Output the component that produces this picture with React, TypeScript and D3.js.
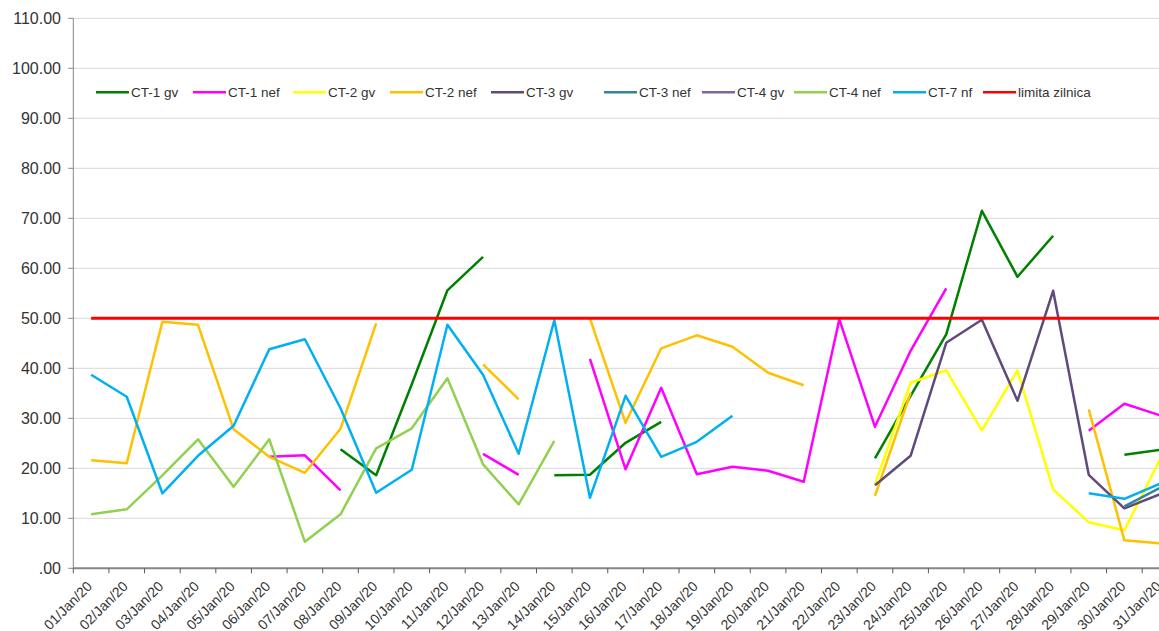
import React, { useEffect, useRef } from "react";
import * as d3 from "d3";

// --- Data ---
const dates: string[] = Array.from({ length: 31 }, (_, i) =>
  `${String(i + 1).padStart(2, "0")}/Jan/20`
);

const _ = null;

const ct1gv = [_, _, _, _, _, _, _, 23.8, 18.6, 36.8, 55.6, 62.3, _, 18.6, 18.7, 25.1, 29.3, _, _, _, _, _, 22.0, 34.5, 46.8, 71.5, 58.3, 66.5, _, 22.7, 23.7];
const ct1nef = [_, _, _, _, _, 22.3, 22.6, 15.6, _, _, _, 22.9, 18.7, _, 41.9, 19.8, 36.1, 18.8, 20.3, 19.5, 17.3, 49.8, 28.3, 43.5, 56.0, _, _, _, 27.5, 32.9, 30.6];
const ct2gv = [_, _, _, _, _, _, _, _, _, _, _, _, _, _, _, _, _, _, _, _, _, _, 16.8, 37.1, 39.6, 27.6, 39.6, 15.8, 9.2, 7.6, 21.8];
const ct2nef = [21.6, 21.0, 49.3, 48.7, 27.8, 22.3, 19.1, 27.9, 49.0, _, _, 40.8, 33.8, _, 50.0, 29.1, 44.0, 46.6, 44.3, 39.1, 36.6, _, 14.5, 35.1, _, _, _, _, 31.8, 5.6, 5.0];
const ct3gv = [_, _, _, _, _, _, _, _, _, _, _, _, _, _, _, _, _, _, _, _, _, _, 16.6, 22.5, 45.1, 49.7, 33.5, 55.5, 18.7, 12.0, 14.8];
const ct3nef = [_, _, _, _, _, _, _, _, _, _, _, _, _, _, _, _, _, _, _, _, _, _, _, _, _, _, _, _, _, 12.4, 16.1];
const ct4gv: (number | null)[] = dates.map(() => null);
const ct4nef = [10.8, 11.8, 18.6, 25.8, 16.3, 25.8, 5.3, 10.8, 24.0, 28.0, 38.0, 20.8, 12.8, 25.5, _, _, _, _, _, _, _, _, _, _, _, _, _, _, _, _, _];
const ct7nf = [38.7, 34.3, 15.0, 22.5, 28.5, 43.8, 45.8, 32.0, 15.1, 19.7, 48.7, 38.7, 22.9, 49.6, 14.1, 34.5, 22.3, 25.3, 30.5, _, _, _, _, _, _, _, _, _, 15.0, 13.9, 16.9];
const limitaZilnica = dates.map(() => 50);

const seriesNames = ["CT-1 gv", "CT-1 nef", "CT-2 gv", "CT-2 nef", "CT-3 gv", "CT-3 nef", "CT-4 gv", "CT-4 nef", "CT-7 nf", "limita zilnica"];
const seriesValues = [ct1gv, ct1nef, ct2gv, ct2nef, ct3gv, ct3nef, ct4gv, ct4nef, ct7nf, limitaZilnica];
const seriesColors = ["#008000", "#FF00FF", "#FFFF00", "#FFC000", "#604A7B", "#31859C", "#8064A2", "#92D050", "#00B0F0", "#FF0000"];

const yTicks = [0, 10, 20, 30, 40, 50, 60, 70, 80, 90, 100, 110];

// legend item x positions (Excel lays them out unevenly)
const legendX = [96, 193, 293, 390, 491, 604, 702, 794, 893, 983];

const W = 1159;
const H = 631;

const App: React.FC = () => {
  const svgRef = useRef<SVGSVGElement>(null);

  useEffect(() => {
    if (!svgRef.current) return;
    const svg = d3.select(svgRef.current);
    svg.selectAll("*").remove();

    const left = 73.3;
    const step = 35.63;
    const x = d3
      .scaleBand<string>()
      .domain(dates)
      .range([left, left + step * dates.length])
      .padding(0);
    const cx = (d: string) => x(d)! + x.bandwidth() / 2;

    const y = d3.scaleLinear().domain([0, 110]).range([568.3, 18.3]);

    const font = "Arial, 'Liberation Sans', sans-serif";
    const textColor = "#333333";

    // gridlines
    svg
      .append("g")
      .selectAll("line")
      .data(yTicks.filter((t) => t > 0))
      .enter()
      .append("line")
      .attr("x1", left)
      .attr("x2", W)
      .attr("y1", (d) => y(d))
      .attr("y2", (d) => y(d))
      .attr("stroke", "#D9D9D9")
      .attr("stroke-width", 1);

    // y axis
    const yAxis = svg.append("g");
    yAxis
      .append("line")
      .attr("x1", left)
      .attr("x2", left)
      .attr("y1", y(110))
      .attr("y2", y(0))
      .attr("stroke", "#868686")
      .attr("stroke-width", 1);
    yAxis
      .selectAll("line.tick")
      .data(yTicks)
      .enter()
      .append("line")
      .attr("class", "tick")
      .attr("x1", left - 5)
      .attr("x2", left)
      .attr("y1", (d) => y(d))
      .attr("y2", (d) => y(d))
      .attr("stroke", "#868686");
    yAxis
      .selectAll("text")
      .data(yTicks)
      .enter()
      .append("text")
      .attr("x", 61)
      .attr("y", (d) => y(d))
      .attr("dy", "0.36em")
      .attr("text-anchor", "end")
      .style("font-family", font)
      .style("font-size", "16px")
      .style("fill", textColor)
      .text((d) => (d === 0 ? ".00" : d3.format(".2f")(d)));

    // x axis
    const xAxis = svg.append("g");
    xAxis
      .append("line")
      .attr("x1", left)
      .attr("x2", W)
      .attr("y1", y(0))
      .attr("y2", y(0))
      .attr("stroke", "#868686")
      .attr("stroke-width", 2);
    xAxis
      .selectAll("line.tick")
      .data(dates)
      .enter()
      .append("line")
      .attr("class", "tick")
      .attr("x1", (d) => x(d)!)
      .attr("x2", (d) => x(d)!)
      .attr("y1", y(0))
      .attr("y2", y(0) + 5)
      .attr("stroke", "#595959");
    xAxis
      .selectAll("text")
      .data(dates)
      .enter()
      .append("text")
      .attr("transform", (d) => `translate(${cx(d) + 2},${y(0) + 19}) rotate(-45)`)
      .attr("text-anchor", "end")
      .style("font-family", font)
      .style("font-size", "14px")
      .style("fill", textColor)
      .text((d) => d);

    // series lines
    const line = d3
      .line<number | null>()
      .defined((d) => d != null)
      .x((_d, i) => cx(dates[i]))
      .y((d) => y(d as number));

    const lines = svg.append("g");
    seriesValues.forEach((vals, k) => {
      lines
        .append("path")
        .datum(vals)
        .attr("d", line)
        .attr("fill", "none")
        .attr("stroke", seriesColors[k])
        .attr("stroke-width", k === 9 ? 3 : 2.5)
        .attr("stroke-linejoin", "round");
    });

    // legend
    const legend = svg.append("g");
    seriesNames.forEach((name, k) => {
      const lx = legendX[k];
      legend
        .append("line")
        .attr("x1", lx)
        .attr("x2", lx + 33)
        .attr("y1", 92.3)
        .attr("y2", 92.3)
        .attr("stroke", seriesColors[k])
        .attr("stroke-width", 2.5);
      legend
        .append("text")
        .attr("x", lx + 35)
        .attr("y", 97)
        .style("font-family", font)
        .style("font-size", "13.5px")
        .style("fill", textColor)
        .text(name);
    });
  }, []);

  return (
    <div style={{ position: "absolute", left: 0, top: 0, width: W, height: H, background: "#fff" }}>
      <svg ref={svgRef} width={W} height={H} style={{ display: "block" }} />
    </div>
  );
};

export default App;
